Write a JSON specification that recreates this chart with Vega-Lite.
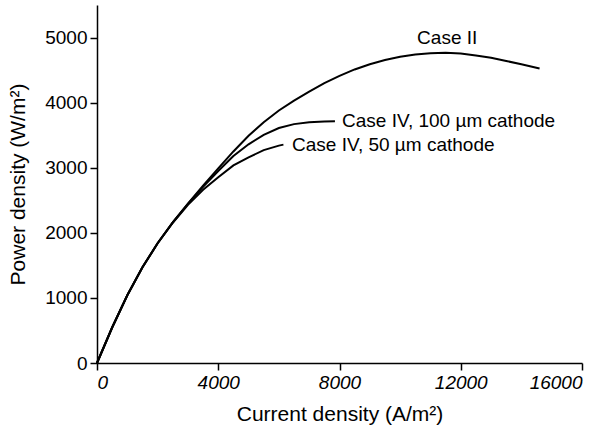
{
  "$schema": "https://vega.github.io/schema/vega-lite/v6.json",
  "width": 485,
  "height": 358,
  "autosize": {"type": "none"},
  "padding": {"left": 97, "top": 5, "right": 27, "bottom": 73},
  "background": "white",
  "config": {
    "view": {"stroke": null},
    "font": "Liberation Sans",
    "axis": {"grid": false, "domainColor": "black", "tickColor": "black", "labelColor": "black", "titleColor": "black", "domainWidth": 1.5, "tickWidth": 1.5, "tickSize": 7, "labelFont": "Liberation Sans", "titleFont": "Liberation Sans", "labelFontSize": 19, "titleFontSize": 21, "titleFontWeight": "normal"}
  },
  "datasets": {
    "curves": [
      {"series": "Case II", "x": 0, "y": 0},
      {"series": "Case II", "x": 500, "y": 545},
      {"series": "Case II", "x": 1000, "y": 1040},
      {"series": "Case II", "x": 1500, "y": 1470},
      {"series": "Case II", "x": 2000, "y": 1840},
      {"series": "Case II", "x": 2500, "y": 2160},
      {"series": "Case II", "x": 3000, "y": 2450},
      {"series": "Case II", "x": 3500, "y": 2725},
      {"series": "Case II", "x": 4000, "y": 2990},
      {"series": "Case II", "x": 4500, "y": 3250},
      {"series": "Case II", "x": 5000, "y": 3490},
      {"series": "Case II", "x": 5500, "y": 3700},
      {"series": "Case II", "x": 6000, "y": 3880},
      {"series": "Case II", "x": 6500, "y": 4030},
      {"series": "Case II", "x": 7000, "y": 4170},
      {"series": "Case II", "x": 7500, "y": 4300},
      {"series": "Case II", "x": 8000, "y": 4410},
      {"series": "Case II", "x": 8500, "y": 4510},
      {"series": "Case II", "x": 9000, "y": 4590},
      {"series": "Case II", "x": 9500, "y": 4655},
      {"series": "Case II", "x": 10000, "y": 4705},
      {"series": "Case II", "x": 10500, "y": 4740},
      {"series": "Case II", "x": 11000, "y": 4760},
      {"series": "Case II", "x": 11500, "y": 4765},
      {"series": "Case II", "x": 12000, "y": 4755},
      {"series": "Case II", "x": 12500, "y": 4725},
      {"series": "Case II", "x": 13000, "y": 4690},
      {"series": "Case II", "x": 13500, "y": 4640},
      {"series": "Case II", "x": 14000, "y": 4590},
      {"series": "Case II", "x": 14600, "y": 4525},
      {"series": "IV100", "x": 0, "y": 0},
      {"series": "IV100", "x": 500, "y": 545},
      {"series": "IV100", "x": 1000, "y": 1040},
      {"series": "IV100", "x": 1500, "y": 1470},
      {"series": "IV100", "x": 2000, "y": 1840},
      {"series": "IV100", "x": 2500, "y": 2160},
      {"series": "IV100", "x": 3000, "y": 2445},
      {"series": "IV100", "x": 3500, "y": 2705},
      {"series": "IV100", "x": 4000, "y": 2950},
      {"series": "IV100", "x": 4500, "y": 3180},
      {"series": "IV100", "x": 5000, "y": 3360},
      {"series": "IV100", "x": 5500, "y": 3505},
      {"series": "IV100", "x": 6000, "y": 3610},
      {"series": "IV100", "x": 6500, "y": 3670},
      {"series": "IV100", "x": 7000, "y": 3700},
      {"series": "IV100", "x": 7500, "y": 3712},
      {"series": "IV100", "x": 7850, "y": 3715},
      {"series": "IV50", "x": 0, "y": 0},
      {"series": "IV50", "x": 500, "y": 545},
      {"series": "IV50", "x": 1000, "y": 1040},
      {"series": "IV50", "x": 1500, "y": 1470},
      {"series": "IV50", "x": 2000, "y": 1840},
      {"series": "IV50", "x": 2500, "y": 2155},
      {"series": "IV50", "x": 3000, "y": 2430},
      {"series": "IV50", "x": 3500, "y": 2660},
      {"series": "IV50", "x": 4000, "y": 2855},
      {"series": "IV50", "x": 4500, "y": 3035},
      {"series": "IV50", "x": 5000, "y": 3160},
      {"series": "IV50", "x": 5500, "y": 3270},
      {"series": "IV50", "x": 6000, "y": 3340},
      {"series": "IV50", "x": 6150, "y": 3355}
    ],
    "labels": [
      {"text": "Case II", "x": 10560, "y": 5000},
      {"text": "Case IV, 100 \u00b5m cathode", "x": 8085, "y": 3723},
      {"text": "Case IV, 50 \u00b5m cathode", "x": 6435, "y": 3354}
    ]
  },
  "layer": [
    {
      "data": {"name": "curves"},
      "mark": {"type": "line", "color": "black", "strokeWidth": 2},
      "encoding": {
        "x": {"field": "x", "type": "quantitative", "scale": {"domain": [0, 16000], "nice": false, "zero": false}, "axis": {"values": [0, 4000, 8000, 12000, 16000], "format": "d", "title": "Current density (A/m\u00b2)", "labelFontStyle": "italic", "labelPadding": 3, "titlePadding": 11}},
        "y": {"field": "y", "type": "quantitative", "scale": {"domain": [0, 5500], "nice": false}, "axis": {"values": [0, 1000, 2000, 3000, 4000, 5000], "format": "d", "title": "Power density (W/m\u00b2)", "labelPadding": 3, "titlePadding": 16}},
        "detail": {"field": "series"},
        "order": {"field": "x", "type": "quantitative"}
      }
    },
    {
      "data": {"name": "labels"},
      "mark": {"type": "text", "fontSize": 19, "color": "black", "font": "Liberation Sans", "baseline": "middle", "align": "left"},
      "encoding": {
        "x": {"field": "x", "type": "quantitative"},
        "y": {"field": "y", "type": "quantitative"},
        "text": {"field": "text"}
      }
    }
  ]
}
